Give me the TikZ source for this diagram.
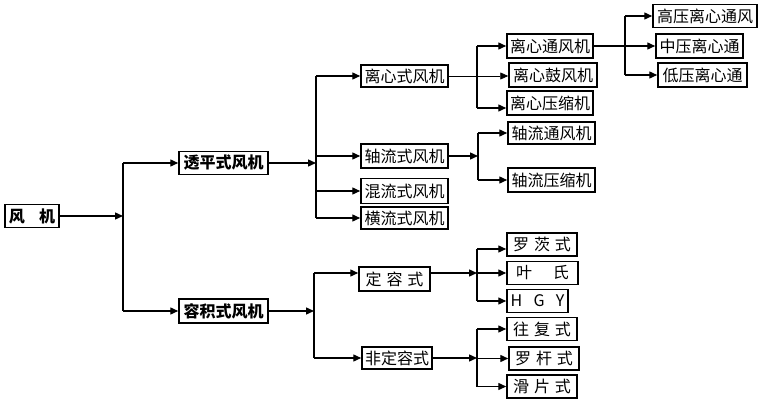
\documentclass[tikz,border=0pt]{standalone}
\usepackage{fontspec}
\newfontfamily\cjk{Noto Sans CJK SC}
\usetikzlibrary{arrows.meta}
\begin{document}
\begin{tikzpicture}[x=1pt,y=-1pt,
  box/.style={draw,line width=1.5pt,inner sep=0pt,font=\cjk\fontsize{16}{17}\selectfont},
  bbox/.style={box,font=\cjk\bfseries\fontsize{16}{17}\selectfont},
  ln/.style={line width=1.4pt},
  thin ln/.style={line width=0.8pt},
  arr/.style={ln,-{Triangle[length=8pt,width=7pt]}},
  tarr/.style={thin ln,-{Triangle[length=8pt,width=7pt]}}]
\useasboundingbox[fill=white] (0,0) rectangle (760,401);

% level 0 and 1
\node[bbox,minimum width=54pt,minimum height=23pt] (fj) at (32,216) {风\hspace{0.9em}机};
\node[bbox,minimum width=89pt,minimum height=23pt] (tp) at (223.5,163) {透平式风机};
\node[bbox,minimum width=89pt,minimum height=24pt] (rj) at (223.5,311) {容积式风机};

% level 2
\node[box,minimum width=87pt,minimum height=22pt] (lx) at (404.5,76) {离心式风机};
\node[box,minimum width=87pt,minimum height=24pt] (zl) at (404.5,156) {轴流式风机};
\node[box,minimum width=87pt,minimum height=25pt] (hl) at (404.5,191) {混流式风机};
\node[box,minimum width=87pt,minimum height=22pt] (hg) at (404.5,218) {横流式风机};
\node[box,minimum width=71pt,minimum height=24pt] (drs) at (394.5,279) {定\hspace{0.3em}容\hspace{0.3em}式};
\node[box,minimum width=70pt,minimum height=22pt] (fdr) at (397,358) {非定容式};

% level 3
\node[box,minimum width=86pt,minimum height=24pt] (lxt) at (550,46) {离心通风机};
\node[box,minimum width=88pt,minimum height=24pt] (lxg) at (553,75) {离心鼓风机};
\node[box,minimum width=86pt,minimum height=24pt] (lxy) at (550,103) {离心压缩机};
\node[box,minimum width=87pt,minimum height=22pt] (zlt) at (551.5,133) {轴流通风机};
\node[box,minimum width=87pt,minimum height=24pt] (zly) at (551.5,180) {轴流压缩机};
\node[box,minimum width=70pt,minimum height=23pt] (lc) at (542,244.5) {罗\hspace{0.3em}茨\hspace{0.3em}式};
\node[box,minimum width=71pt,minimum height=23pt] (ys) at (542.5,273) {叶\hspace{1.3em}氏};
\node[box,minimum width=61pt,minimum height=23pt] (hgy) at (537.5,301) {H\hspace{0.7em}G\hspace{0.7em}Y};
\node[box,minimum width=70pt,minimum height=23pt] (wf) at (542,329) {往\hspace{0.3em}复\hspace{0.3em}式};
\node[box,minimum width=70pt,minimum height=23pt] (lg) at (544,358.5) {罗\hspace{0.3em}杆\hspace{0.3em}式};
\node[box,minimum width=70pt,minimum height=23pt] (hp) at (542,386.5) {滑\hspace{0.3em}片\hspace{0.3em}式};

% level 4
\node[box,minimum width=104pt,minimum height=23pt] (gy) at (705,16) {高压离心通风};
\node[box,minimum width=87pt,minimum height=24pt] (zy) at (699.5,46) {中压离心通};
\node[box,minimum width=89pt,minimum height=24pt] (dy) at (702.5,75) {低压离心通};

% shifted attachment points
\coordinate (drsin) at ([yshift=6pt]drs.west);
\coordinate (drsout) at ([yshift=6pt]drs.east);
\coordinate (lxyin) at ([yshift=-5pt]lxy.west);
\coordinate (lcin) at ([yshift=-4.5pt]lc.west);

% junction coordinates
\coordinate (j1) at (123,216);
\coordinate (j2) at (316,163);
\coordinate (j3) at (314,311);
\coordinate (j4) at (477,76);
\coordinate (j5) at (625,46);
\coordinate (j6) at (478,156);
\coordinate (j7) at (477,273);
\coordinate (j8) at (477,358);

% fan -> two types
\draw[arr] (fj.east) -- (j1);
\draw[ln] (j1 |- tp.west) -- (j1 |- rj.west);
\draw[arr] (j1 |- tp.west) -- (tp.west);
\draw[arr] (j1 |- rj.west) -- (rj.west);

% turbo fans
\draw[arr] (tp.east) -- (j2);
\draw[ln] (j2 |- lx.west) -- (j2 |- hg.west);
\draw[arr] (j2 |- lx.west) -- (lx.west);
\draw[arr] (j2 |- zl.west) -- (zl.west);
\draw[arr] (j2 |- hl.west) -- (hl.west);
\draw[arr] (j2 |- hg.west) -- (hg.west);

% positive displacement
\draw[arr] (rj.east) -- (j3);
\draw[ln] (j3 |- drsin) -- (j3 |- fdr.west);
\draw[arr] (j3 |- drsin) -- (drsin);
\draw[arr] (j3 |- fdr.west) -- (fdr.west);

% centrifugal
\draw[tarr] (lx.east) -- (lx.east -| lxg.west);
\draw[ln] (j4 |- lxt.west) -- (j4 |- lxyin);
\draw[arr] (j4 |- lxt.west) -- (lxt.west);
\draw[arr] (j4 |- lxyin) -- (lxyin);

% centrifugal ventilators by pressure
\draw[arr] (lxt.east) -- (lxt.east -| zy.west);
\draw[ln] (j5 |- gy.west) -- (j5 |- dy.west);
\draw[arr] (j5 |- gy.west) -- (gy.west);
\draw[arr] (j5 |- dy.west) -- (dy.west);

% axial
\draw[arr] (zl.east) -- (j6);
\draw[ln] (j6 |- zlt.west) -- (j6 |- zly.west);
\draw[arr] (j6 |- zlt.west) -- (zlt.west);
\draw[arr] (j6 |- zly.west) -- (zly.west);

% fixed volume
\draw[arr] (drsout) -- (j7);
\draw[ln] (j7 |- lcin) -- (j7 |- hgy.west);
\draw[arr] (j7 |- lcin) -- (lcin);
\draw[arr] (j7 |- ys.west) -- (ys.west);
\draw[arr] (j7 |- hgy.west) -- (hgy.west);

% variable volume
\draw[arr] (fdr.east) -- (j8);
\draw[ln] (j8 |- wf.west) -- (j8 |- hp.west);
\draw[arr] (j8 |- wf.west) -- (wf.west);
\draw[arr] (j8 |- lg.west) -- (lg.west);
\draw[arr] (j8 |- hp.west) -- (hp.west);
\end{tikzpicture}
\end{document}
